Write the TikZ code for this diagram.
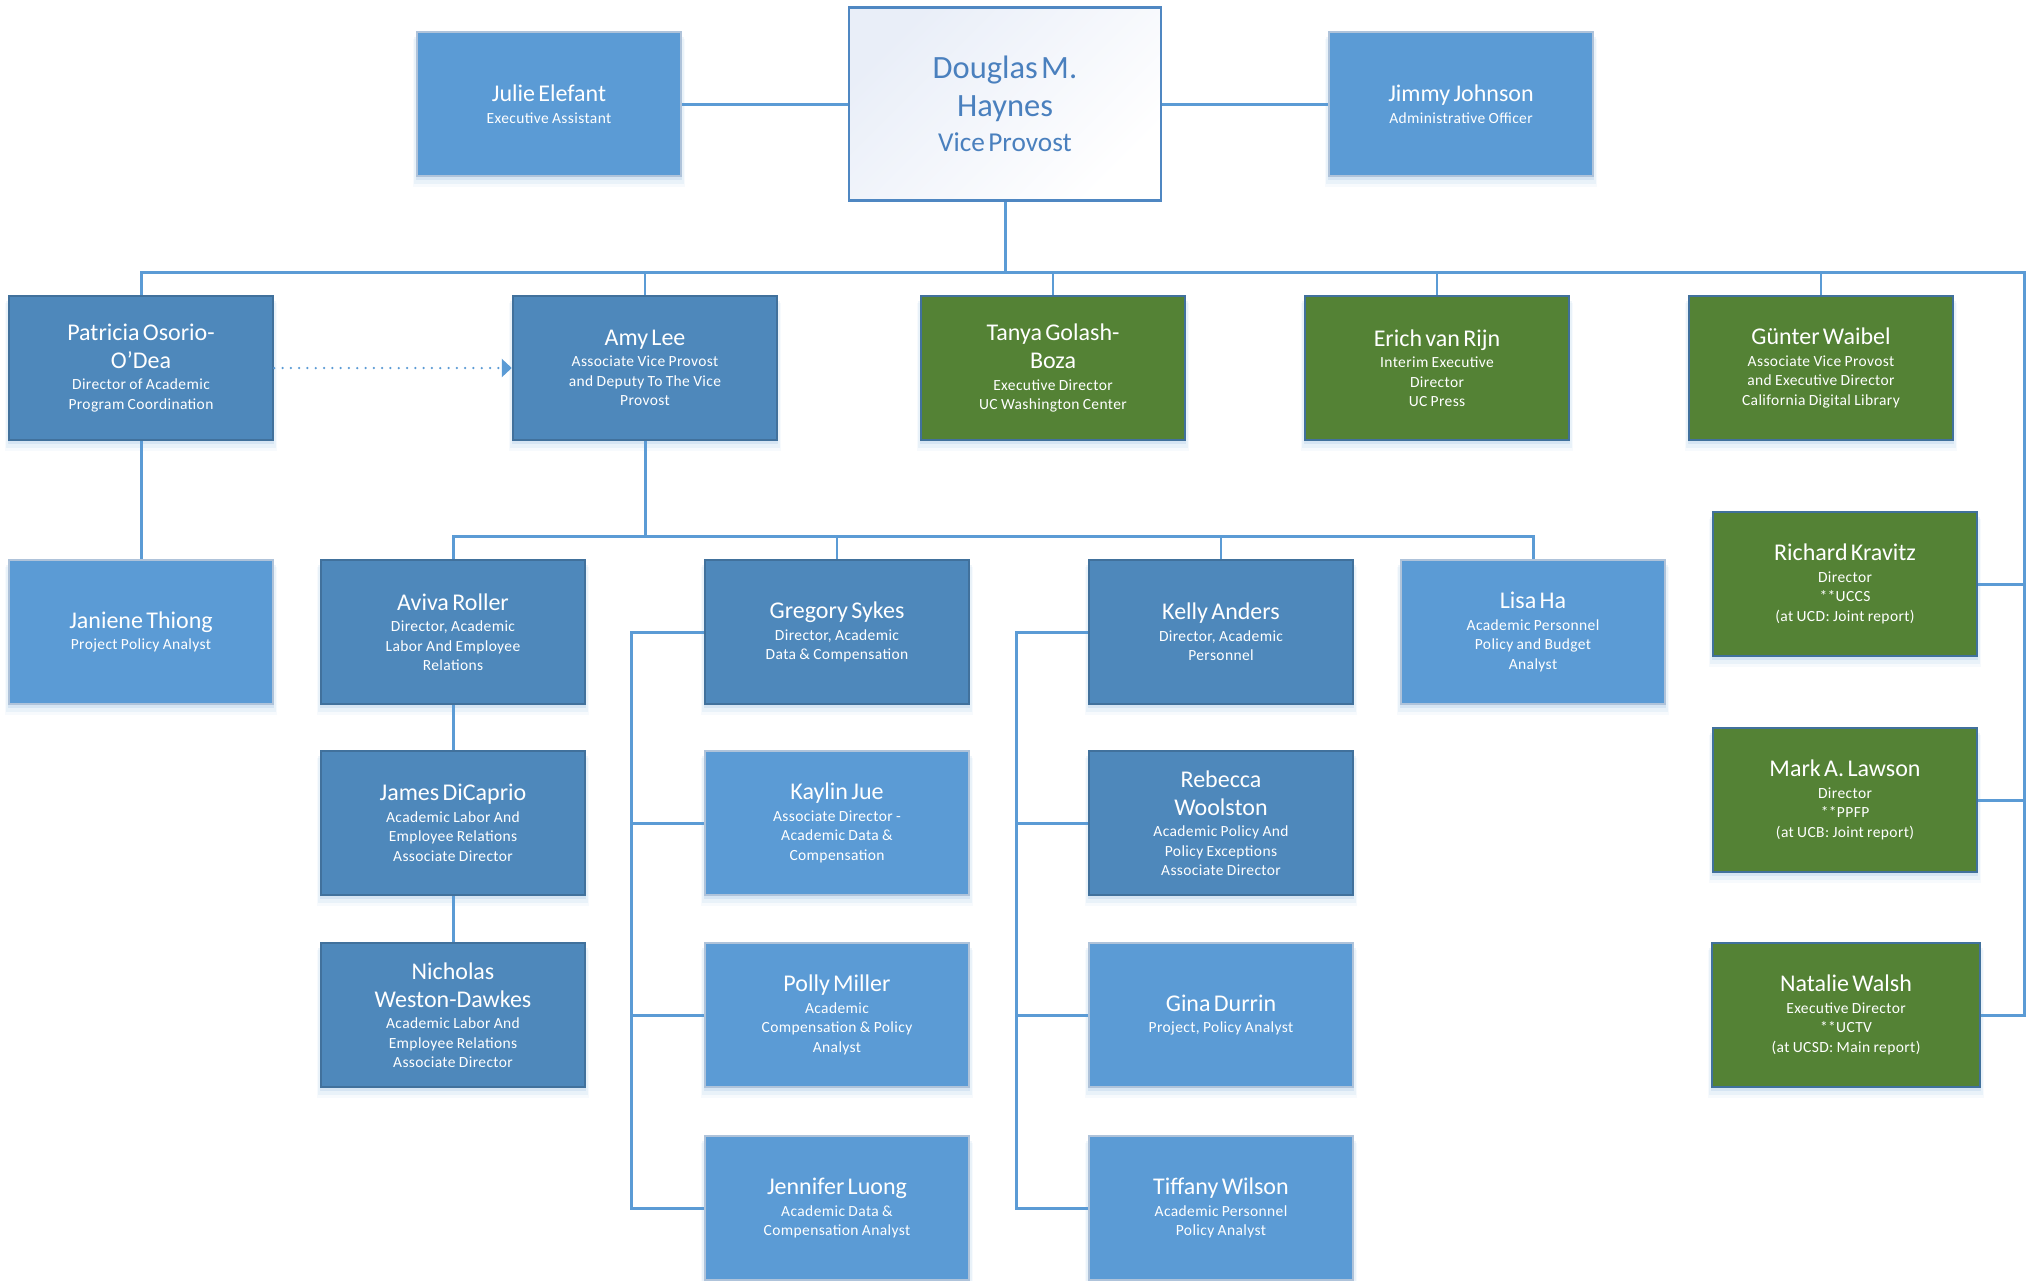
\documentclass[tikz,border=0pt]{standalone}
\usepackage{fontspec}
\setmainfont{Carlito}
\newfontfamily\titlefont[LetterSpace=2.5]{Carlito}
\usetikzlibrary{shadows,arrows.meta}
\definecolor{lb}{HTML}{5B9BD5}
\definecolor{lbb}{HTML}{AFC3DA}
\definecolor{db}{HTML}{4E88BB}
\definecolor{dbb}{HTML}{41719C}
\definecolor{gr}{HTML}{548235}
\definecolor{shc}{HTML}{9DC3E6}
\definecolor{dtx}{HTML}{4A80BE}
\definecolor{dbd}{HTML}{4F87C2}
\definecolor{dgr}{HTML}{E9EEF8}
\newcommand{\cardname}{\fontsize{24}{28}\selectfont}
\newcommand{\cardtitle}{\par\vskip 2pt\titlefont\fontsize{15.5}{19.5}\selectfont}
\newcommand{\brk}{\par}
\tikzset{
  shd/.style={
    general shadow={fill=shc, shadow yshift=-3pt, shadow scale=1.01, opacity=0.25},
    general shadow={fill=shc, shadow yshift=-6pt, shadow scale=1.02, opacity=0.15},
    general shadow={fill=shc, shadow yshift=-9pt, shadow scale=1.03, opacity=0.08}},
  box/.style={rectangle, minimum width=264pt, minimum height=144pt, text width=250pt,
    align=center, text=white, inner sep=0pt, shd},
  lightbox/.style={box, fill=lb, draw=lbb, line width=1.5pt},
  darkbox/.style={box, fill=db, draw=dbb, line width=2.5pt},
  greenbox/.style={box, fill=gr, draw=dbb, line width=2.5pt},
  headbox/.style={rectangle, minimum width=312pt, minimum height=193pt, text width=290pt,
    align=center, text=dtx, inner sep=0pt, draw=dbd, line width=2.5pt,
    top color=dgr, bottom color=white, shading angle=45},
  conn/.style={draw=lb, line width=3pt},
  connthin/.style={draw=lb, line width=2pt},
  dotarrow/.style={draw=lb, line width=2.5pt, line cap=round, dash pattern=on 0pt off 8.3pt,
    -{Triangle[length=10pt, width=18pt]}},
}
\begin{document}
\begin{tikzpicture}[x=1pt, y=-1pt]
\fill[white] (0,0) rectangle (2026,1280);
\useasboundingbox (0,0) rectangle (2026,1280);

% top row
\node[lightbox] (jul) at (549,104) {\cardname Julie Elefant\cardtitle Executive Assistant\par};
\node[headbox] (dou) at (1005,104) {\fontsize{32.5}{38.5}\selectfont Douglas M.\brk Haynes\brk\fontsize{27.3}{35}\selectfont Vice Provost\par};
\node[lightbox] (jim) at (1461,104) {\cardname Jimmy Johnson\cardtitle Administrative Officer\par};

% second row
\node[darkbox] (pat) at (141,368) {\cardname Patricia Osorio-\brk O'Dea\cardtitle Director of Academic\brk Program Coordination\par};
\node[darkbox] (amy) at (645,368) {\cardname Amy Lee\cardtitle Associate Vice Provost\brk and Deputy To The Vice\brk Provost\par};
\node[greenbox] (tan) at (1053,368) {\cardname Tanya Golash-\brk Boza\cardtitle Executive Director\brk UC Washington Center\par};
\node[greenbox] (eri) at (1437,368) {\cardname Erich van Rijn\cardtitle Interim Executive\brk Director\brk UC Press\par};
\node[greenbox] (gun) at (1821,368) {\cardname Günter Waibel\cardtitle Associate Vice Provost\brk and Executive Director\brk California Digital Library\par};

% third row
\node[lightbox] (jan) at (141,632) {\cardname Janiene Thiong\cardtitle Project Policy Analyst\par};
\node[darkbox] (avi) at (453,632) {\cardname Aviva Roller\cardtitle Director, Academic\brk Labor And Employee\brk Relations\par};
\node[darkbox] (gre) at (837,632) {\cardname Gregory Sykes\cardtitle Director, Academic\brk Data \& Compensation\par};
\node[darkbox] (kel) at (1221,632) {\cardname Kelly Anders\cardtitle Director, Academic\brk Personnel\par};
\node[lightbox] (lis) at (1533,632) {\cardname Lisa Ha\cardtitle Academic Personnel\brk Policy and Budget\brk Analyst\par};

% Aviva chain
\node[darkbox] (jam) at (453,823) {\cardname James DiCaprio\cardtitle Academic Labor And\brk Employee Relations\brk Associate Director\par};
\node[darkbox] (nic) at (453,1015) {\cardname Nicholas\brk Weston-Dawkes\cardtitle Academic Labor And\brk Employee Relations\brk Associate Director\par};

% Gregory group
\node[lightbox] (kay) at (837,823) {\cardname Kaylin Jue\cardtitle Associate Director -\brk Academic Data \&\brk Compensation\par};
\node[lightbox] (pol) at (837,1015) {\cardname Polly Miller\cardtitle Academic\brk Compensation \& Policy\brk Analyst\par};
\node[lightbox] (jen) at (837,1208) {\cardname Jennifer Luong\cardtitle Academic Data \&\brk Compensation Analyst\par};

% Kelly group
\node[darkbox] (reb) at (1221,823) {\cardname Rebecca\brk Woolston\cardtitle Academic Policy And\brk Policy Exceptions\brk Associate Director\par};
\node[lightbox] (gin) at (1221,1015) {\cardname Gina Durrin\cardtitle Project, Policy Analyst\par};
\node[lightbox] (tif) at (1221,1208) {\cardname Tiffany Wilson\cardtitle Academic Personnel\brk Policy Analyst\par};

% right column
\node[greenbox] (ric) at (1845,584) {\cardname Richard Kravitz\cardtitle Director\brk **UCCS\brk (at UCD: Joint report)\par};
\node[greenbox] (mar) at (1845,800) {\cardname Mark A. Lawson\cardtitle Director\brk **PPFP\brk (at UCB: Joint report)\par};
\node[greenbox, minimum width=268pt] (nat) at (1846,1015) {\cardname Natalie Walsh\cardtitle Executive Director\brk **UCTV\brk (at UCSD: Main report)\par};

% connectors
\coordinate (topbus) at (1005,272);
\coordinate (rbus) at (2024,272);
\draw[conn] (jul.east) -- (dou.west);
\draw[conn] (dou.east) -- (jim.west);
\draw[conn] (dou.south) -- (topbus);
\draw[conn] (pat.north) |- (rbus) |- (nat.east);
\foreach \n in {amy,tan,eri,gun} \draw[connthin] (\n.north) -- (\n.north |- topbus);
\draw[conn] (ric.east) -- (ric.east -| rbus);
\draw[conn] (mar.east) -- (mar.east -| rbus);

\draw[conn] (pat.south) -- (jan.north);
\draw[dotarrow] (pat.east) -- (amy.west);

\coordinate (abus) at (645,536);
\draw[conn] (amy.south) -- (abus);
\draw[conn] (avi.north) |- (abus) -| (lis.north);
\draw[connthin] (gre.north) -- (gre.north |- abus);
\draw[connthin] (kel.north) -- (kel.north |- abus);

\draw[conn] (avi.south) -- (jam.north);
\draw[conn] (jam.south) -- (nic.north);

\coordinate (gx) at (631,0);
\draw[conn] (gre.west) -- (gre.west -| gx) |- (jen.west);
\draw[conn] (kay.west) -- (kay.west -| gx);
\draw[conn] (pol.west) -- (pol.west -| gx);

\coordinate (kx) at (1016,0);
\draw[conn] (kel.west) -- (kel.west -| kx) |- (tif.west);
\draw[conn] (reb.west) -- (reb.west -| kx);
\draw[conn] (gin.west) -- (gin.west -| kx);
\end{tikzpicture}
\end{document}
